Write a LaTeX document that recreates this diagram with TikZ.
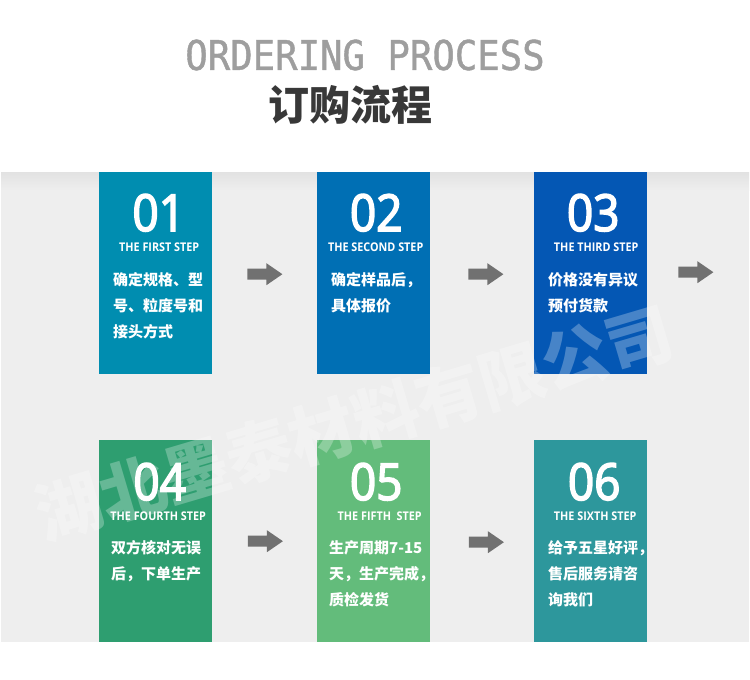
\documentclass[tikz,border=0pt]{standalone}
\usepackage{fontspec}
\usetikzlibrary{calc}
\setmainfont{Open Sans}
\newfontfamily\cjkfont{Noto Sans CJK SC}
\newfontfamily\numfont[FakeStretch=0.9,FakeBold=3]{Open Sans}
\newfontfamily\labfont[FakeStretch=0.9]{Open Sans}
\newfontfamily\titlefont[FakeStretch=0.91,FakeBold=1]{DejaVu Sans Mono}
\definecolor{bandgray}{HTML}{EEEEEE}
\definecolor{bandtop}{HTML}{E2E2E2}
\definecolor{arrowgray}{HTML}{717171}
\definecolor{titlegray}{HTML}{9E9E9E}
\definecolor{subgray}{HTML}{383838}
\definecolor{cA}{HTML}{008DB0}
\definecolor{cB}{HTML}{006FB4}
\definecolor{cC}{HTML}{0457B4}
\definecolor{cD}{HTML}{2E9E70}
\definecolor{cE}{HTML}{63BC7B}
\definecolor{cF}{HTML}{2D979C}
\tikzset{
  stepbox/.style={draw=none, minimum width=113pt, minimum height=202pt, inner sep=0pt, anchor=north west},
  numstyle/.style={text=white, inner sep=0pt, anchor=base, font=\numfont\fontsize{51}{51}\selectfont},
  labstyle/.style={text=white, inner sep=0pt, anchor=base, font=\labfont\bfseries\fontsize{12}{12}\selectfont},
  cntext/.style={text=white, inner sep=0pt, anchor=base west, font=\cjkfont\bfseries\fontsize{15}{15}\selectfont},
  titlestyle/.style={text=titlegray, inner sep=0pt, font=\titlefont\fontsize{41}{41}\selectfont},
  substyle/.style={text=subgray, inner sep=0pt, font=\cjkfont\bfseries\fontsize{41}{41}\selectfont},
  wmstyle/.style={text=white, text opacity=0.27, inner sep=0pt, rotate=16.5, font=\cjkfont\bfseries\fontsize{66}{66}\selectfont},
  blockarrow/.pic={\fill[arrowgray] (-17.5,-5.5) -- (1.5,-5.5) -- (1.5,-11) -- (17.5,0) -- (1.5,11) -- (1.5,5.5) -- (-17.5,5.5) -- cycle;}
}
\begin{document}
\begin{tikzpicture}[x=1pt,y=-1pt]
\useasboundingbox (0,0) rectangle (750,680);
\fill[white] (0,0) rectangle (750,680);
% band
\fill[bandgray] (1,172) rectangle (749,642);
\shade[top color=bandtop, bottom color=bandgray] (1,172) rectangle (749,190);
% title
\node[titlestyle] (title) at (365,55) {ORDERING PROCESS};
\node[substyle] (sub) at (350,105) {订购流程};
% boxes
\node[stepbox, fill=cA] (b1) at (99,172) {};
\node[stepbox, fill=cB] (b2) at (317,172) {};
\node[stepbox, fill=cC] (b3) at (534,172) {};
\node[stepbox, fill=cD] (b4) at (99,440) {};
\node[stepbox, fill=cE] (b5) at (317,440) {};
\node[stepbox, fill=cF] (b6) at (534,440) {};
% numbers
\node[numstyle] (n1) at ($(b1.north)+(3,59)$) {01};
\node[numstyle] (n2) at ($(b2.north)+(2.5,59)$) {02};
\node[numstyle] (n3) at ($(b3.north)+(2.5,59)$) {03};
\node[numstyle] (n4) at ($(b4.north)+(4,60)$) {04};
\node[numstyle] (n5) at ($(b5.north)+(2.5,60)$) {05};
\node[numstyle] (n6) at ($(b6.north)+(3.5,60)$) {06};
% step labels
\node[labstyle] (s1) at ($(b1.north)+(3.5,79.5)$) {THE FIRST STEP};
\node[labstyle] (s2) at ($(b2.north)+(2,79.5)$) {THE SECOND STEP};
\node[labstyle] (s3) at ($(b3.north)+(5.5,79.5)$) {THE THIRD STEP};
\node[labstyle] (s4) at ($(b4.north)+(2.5,80)$) {THE FOURTH STEP};
\node[labstyle] (s5) at ($(b5.north)+(6,80)$) {THE FIFTH~\ STEP};
\node[labstyle] (s6) at ($(b6.north)+(4.5,80)$) {THE SIXTH STEP};
% chinese texts
\node[cntext] (t1a) at ($(b1.north west)+(14,113.7)$) {确定规格、型};
\node[cntext] (t1b) at ($(t1a.base west)+(0,26)$) {号、粒度号和};
\node[cntext] (t1c) at ($(t1b.base west)+(0,26)$) {接头方式};
\node[cntext] (t2a) at ($(b2.north west)+(14,113.7)$) {确定样品后，};
\node[cntext] (t2b) at ($(t2a.base west)+(0,26)$) {具体报价};
\node[cntext] (t3a) at ($(b3.north west)+(14,113.7)$) {价格没有异议};
\node[cntext] (t3b) at ($(t3a.base west)+(0,26)$) {预付货款};
\node[cntext] (t4a) at ($(b4.north west)+(12,113.7)$) {双方核对无误};
\node[cntext] (t4b) at ($(t4a.base west)+(0,26)$) {后，下单生产};
\node[cntext] (t5a) at ($(b5.north west)+(12,113.7)$) {生产周期7-15};
\node[cntext] (t5b) at ($(t5a.base west)+(0,26)$) {天，生产完成，};
\node[cntext] (t5c) at ($(t5b.base west)+(0,26)$) {质检发货};
\node[cntext] (t6a) at ($(b6.north west)+(14,113.7)$) {给予五星好评，};
\node[cntext] (t6b) at ($(t6a.base west)+(0,26)$) {售后服务请咨};
\node[cntext] (t6c) at ($(t6b.base west)+(0,26)$) {询我们};
% arrows
\coordinate (a1) at ($(b1.east)+(52.5,1)$);
\coordinate (a2) at ($(b2.east)+(55.5,1)$);
\coordinate (a3) at ($(b3.east)+(48.5,-1)$);
\coordinate (a4) at ($(b4.east)+(53,0)$);
\coordinate (a5) at ($(b5.east)+(56,1)$);
\pic at (a1) {blockarrow};
\pic at (a2) {blockarrow};
\pic at (a3) {blockarrow};
\pic at (a4) {blockarrow};
\pic at (a5) {blockarrow};
% watermark
\node[wmstyle] (wm) at (354,423) {湖北墨泰材料有限公司};
\end{tikzpicture}
\end{document}
